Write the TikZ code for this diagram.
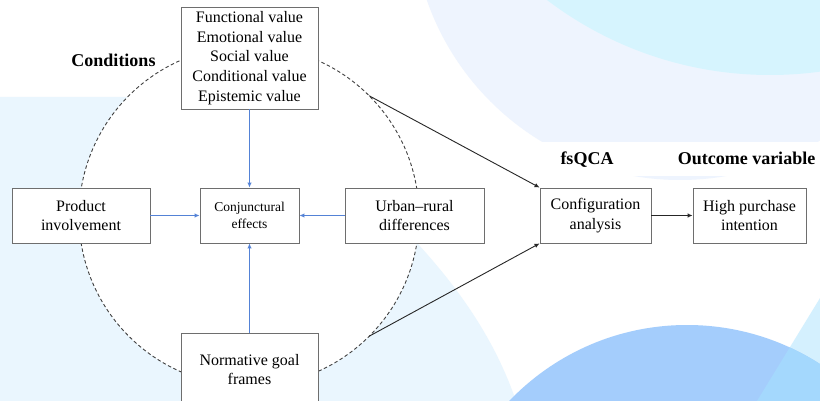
\documentclass[tikz,border=0pt]{standalone}
\usepackage{fontspec}
\setmainfont{Liberation Serif}
\usetikzlibrary{arrows.meta}
\definecolor{bgleft}{RGB}{234,246,254}
\definecolor{bglav}{RGB}{238,244,254}
\definecolor{bgcyan}{RGB}{214,244,254}
\definecolor{bgblue}{RGB}{164,205,252}
\definecolor{bgrcyan}{RGB}{212,240,254}
\definecolor{bgover}{RGB}{164,216,253}
\definecolor{boxline}{RGB}{110,110,110}
\definecolor{arrblue}{RGB}{84,130,214}
\definecolor{dashgray}{RGB}{64,64,64}
\tikzset{
  box/.style={draw=boxline, fill=white, line width=0.9pt, inner sep=0pt, align=center,
    font=\fontsize{16}{19.8}\selectfont},
  smallbox/.style={box, font=\fontsize{13.5}{17.5}\selectfont},
  lbl/.style={font=\fontsize{18}{20}\selectfont\bfseries, inner sep=0pt},
  barrow/.style={draw=arrblue, line width=1pt, -{Latex[length=5pt,width=4.5pt]}},
  karrow/.style={draw=black!85, line width=0.9pt, -{Latex[length=5pt,width=4.5pt]}},
  dcirc/.style={draw=dashgray, line width=0.9pt, dash pattern=on 3.5pt off 2.5pt}
}
\begin{document}
\begin{tikzpicture}[x=1pt,y=-1pt]
\clip (0,0) rectangle (820,401);
\fill[white] (0,0) rectangle (820,401);
% background decorations
\fill[bgleft] (0,97) -- (330,97) -- (418,244) .. controls (460,290) and (495,340) .. (516,401) -- (0,401) -- cycle;
\fill[bglav] (680,-88) circle (268);
\fill[bgcyan] (770,-294) circle (369);
\fill[bgrcyan] (828,285) -- (757,401) -- (828,401) -- cycle;
\fill[bgblue] (687,571) circle (246);
\begin{scope}
  \clip (828,285) -- (757,401) -- (828,401) -- cycle;
  \fill[bgover] (687,571) circle (246);
\end{scope}
\fill[white] (517,142) rectangle (820,176);
% conditions circle
\coordinate (cc) at (249,216);
\fill[white] (cc) circle (170);
\draw[dcirc] (cc) circle (170);
\coordinate (p1) at (369.2,95.8);
\coordinate (p2) at (369.2,336.2);
% boxes
\node[box, minimum width=137pt, minimum height=102pt] (val) at (249.5,58)
  {Functional value\\Emotional value\\Social value\\Conditional value\\Epistemic value};
\node[box, minimum width=138pt, minimum height=55pt] (prod) at (81,215.5) {Product\\involvement};
\node[smallbox, minimum width=99pt, minimum height=55pt] (conj) at (249.5,215.5) {Conjunctural\\effects};
\node[box, minimum width=139pt, minimum height=55pt] (urban) at (414.5,215.5) {Urban–rural\\differences};
\node[box, minimum width=111pt, minimum height=55pt] (conf) at (595.5,215.5) {Configuration\\analysis};
\node[box, minimum width=113pt, minimum height=55pt] (high) at (749.5,215.5) {High purchase\\intention};
\node[box, minimum width=137pt, minimum height=73pt] (norm) at (249.5,369.5) {Normative goal\\frames};
% labels
\node[lbl] (tcond) at (113.5,60) {Conditions};
\node[lbl] (tfs) at (587,160) {fsQCA};
\node[lbl] (tout) at (746.5,158) {Outcome variable};
% arrows
\draw[barrow] (val) -- (conj);
\draw[barrow] (prod) -- (conj);
\draw[barrow] (urban) -- (conj);
\draw[barrow] (norm) -- (conj);
\draw[karrow] (p1) -- (conf.north west);
\draw[karrow] (p2) -- (conf.south west);
\draw[karrow] (conf) -- (high);
\end{tikzpicture}
\end{document}
